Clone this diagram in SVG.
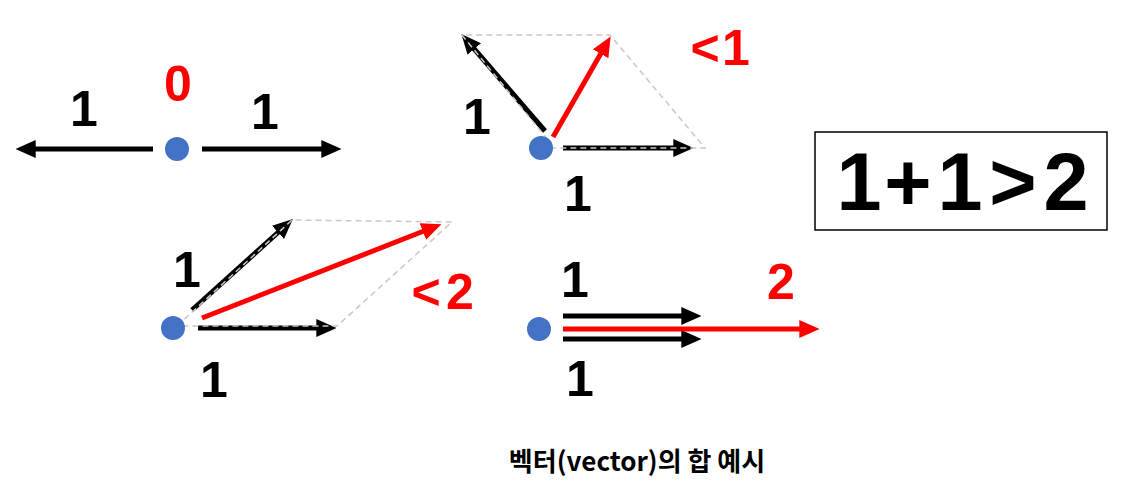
<svg xmlns="http://www.w3.org/2000/svg" width="1140" height="495" viewBox="0 0 1140 495">
<defs>
<style>
.dot{fill:#4472C4}
.blk{stroke:#000;stroke-width:5;fill:none}
.red{stroke:#FF0000;stroke-width:5;fill:none}
.dash{stroke:#C8C8C8;stroke-width:1.5;stroke-dasharray:6 4;fill:none}
.lbl{font-family:"Liberation Sans",Arial,sans-serif;font-weight:bold;font-size:50px;text-anchor:middle}
.k{fill:#000}
.r{fill:#FF0000}
</style>
<marker id="ab" markerUnits="userSpaceOnUse" markerWidth="20" markerHeight="18" viewBox="0 0 18 16" refX="6" refY="8" orient="auto">
<path d="M0,0 L18,8 L0,16 z" fill="#000"/>
</marker>
<marker id="ar" markerUnits="userSpaceOnUse" markerWidth="20" markerHeight="18" viewBox="0 0 18 16" refX="6" refY="8" orient="auto">
<path d="M0,0 L18,8 L0,16 z" fill="#FF0000"/>
</marker>
</defs>
<rect width="1140" height="495" fill="#fff"/>

<g id="connectors">
<line class="blk" x1="153" y1="149" x2="29" y2="149" marker-end="url(#ab)"/>
<line class="blk" x1="202" y1="149" x2="328" y2="149" marker-end="url(#ab)"/>
<line class="blk" x1="545" y1="131" x2="470" y2="44" marker-end="url(#ab)"/>
<line class="blk" x1="563" y1="148" x2="680" y2="148" marker-end="url(#ab)"/>
<polyline class="dash" points="548,140 462,35 610,35 705,148 553,148"/>
<line class="red" x1="553" y1="137" x2="604" y2="48" marker-end="url(#ar)"/>
<line class="blk" x1="192" y1="310" x2="283" y2="228" marker-end="url(#ab)"/>
<line class="blk" x1="198" y1="328" x2="323" y2="328" marker-end="url(#ab)"/>
<polyline class="dash" points="177,326 292,220 452,222 337,326 177,326"/>
<line class="red" x1="202" y1="318" x2="429" y2="229" marker-end="url(#ar)"/>
<line class="blk" x1="563" y1="316" x2="688" y2="316" marker-end="url(#ab)"/>
<line class="blk" x1="563" y1="339" x2="688" y2="339" marker-end="url(#ab)"/>
<line class="red" x1="563" y1="329" x2="806" y2="329" marker-end="url(#ar)"/>
</g>

<g id="node-p1">
<circle class="dot" cx="177" cy="149" r="12"/>
<text class="lbl k" x="84" y="126">1</text>
<text class="lbl r" x="178" y="101">0</text>
<text class="lbl k" x="265" y="129">1</text>
</g>

<g id="node-p2">
<circle class="dot" cx="541" cy="148" r="12"/>
<text class="lbl r" x="705 736" y="65">&lt;1</text>
<text class="lbl k" x="477" y="134">1</text>
<text class="lbl k" x="578" y="211">1</text>
</g>

<g id="node-p3">
<circle class="dot" cx="173" cy="328" r="12"/>
<text class="lbl k" x="187" y="287">1</text>
<text class="lbl r" x="426 460" y="309">&lt;2</text>
<text class="lbl k" x="214" y="397">1</text>
</g>

<g id="node-p4">
<circle class="dot" cx="539" cy="329" r="12"/>
<text class="lbl k" x="575" y="297">1</text>
<text class="lbl r" x="781" y="299">2</text>
<text class="lbl k" x="580" y="396">1</text>
</g>

<g id="node-box">
<rect x="815" y="132" width="292" height="98" fill="#fff" stroke="#000" stroke-width="1.5"/>
<text x="859 908 960 1013 1066" y="210" font-family="'Liberation Sans',Arial,sans-serif" font-weight="bold" font-size="81" text-anchor="middle">1+1&gt;2</text>
</g>

<g id="node-caption">
<text x="637" y="471" font-family="'Noto Sans CJK KR','Liberation Sans',sans-serif" font-weight="bold" font-size="26" text-anchor="middle">벡터(vector)의 합 예시</text>
</g>
</svg>
